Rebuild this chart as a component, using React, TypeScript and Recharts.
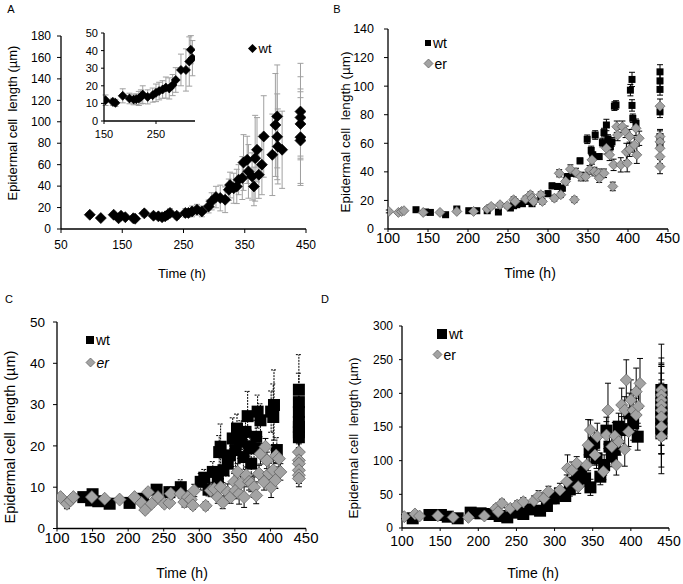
import React from "react";
import { ScatterChart, Scatter, XAxis, YAxis, ErrorBar } from "recharts";

const FONT = "'Liberation Sans', Arial, sans-serif";

// ---- panel A (wt only) ----
const aX = [97, 115, 136, 144, 148, 155, 168, 171, 186, 201, 209, 215, 220, 224, 228, 239, 253, 258, 264, 272, 280, 291, 296, 303, 310, 318, 324, 326, 332, 337, 340, 346, 348, 354, 356, 362, 365, 367, 370, 373, 378, 381, 395, 400, 403, 403, 404, 411, 441, 441, 441, 441, 441];
const aY = [13.3, 10.2, 13.3, 10, 12.4, 11, 10, 9.6, 14.6, 12.4, 11.8, 11, 11.8, 13.3, 15, 12.4, 15, 15, 16.4, 18, 16.4, 21, 25.8, 29.8, 28.9, 27.3, 36.6, 41, 38, 39.7, 46, 47.5, 62, 64.5, 53.7, 49, 39.7, 66, 73.9, 50.6, 60, 86.3, 69.2, 97, 105, 86, 77, 73.9, 109.5, 104, 98, 85.6, 82.5];
const aErr = [2, 1.5, 2, 2, 2, 2, 2, 2, 3, 2.5, 3, 3, 3, 3, 4, 3, 4, 4, 5, 5, 5, 6, 8, 10, 12, 12, 10, 12, 14, 16, 14, 20, 26, 22, 25, 22, 18, 40, 30, 22, 28, 38, 38, 48, 48, 40, 35, 36, 45, 38, 30, 45, 40];

// inset of panel A
const insetX = [153, 167, 172, 186, 199, 207, 212, 217, 221, 224.5, 234, 243.6, 250, 256, 262.7, 269, 275.5, 282, 288, 298, 307.6, 314, 317, 320];
const insetY = [11.8, 10.9, 10.3, 14.3, 12.8, 12.2, 12.4, 12.8, 13.7, 15, 13.7, 14.7, 16, 17, 17.9, 19, 18.5, 20.4, 23.3, 29, 29, 33.8, 40.5, 35.7];
const insetErr = [3, 2, 2, 4, 3, 3, 3, 4, 4, 5, 4, 4, 5, 5, 5, 6, 6, 6, 7, 9, 12, 14, 8, 10];

// ---- panel B ----
const bWtX = [135, 147, 153, 172, 186, 201, 211, 224, 238, 253, 257, 261, 268, 274, 280, 291, 300, 305, 312, 318, 324, 331, 340, 349, 354, 356, 359, 364, 368, 370, 373, 375, 378, 380, 383, 385, 403, 405, 405, 406, 410, 440, 440, 440, 440, 440, 440];
const bWtY = [13.5, 11.9, 11.6, 10, 14, 12.8, 12.8, 12.8, 11.9, 14.7, 16.3, 17, 17.7, 19.3, 17.7, 21.6, 24.7, 30.2, 29.8, 28.6, 36.7, 39, 47.7, 62.8, 55, 51.9, 65.8, 50.7, 60.5, 67.5, 72.8, 63, 57.7, 61, 86, 86.8, 97.2, 104.7, 86.5, 77.5, 74, 110, 103.7, 97.7, 82, 60, 64.7];
const bWtErr = [1, 1, 1, 1, 1.5, 1, 1, 1, 1, 1.5, 1.5, 1.5, 1.5, 2, 1.5, 2, 2, 2, 2, 2, 2, 2, 2, 3, 3, 2, 3, 2, 3, 3, 4, 3, 3, 3, 3, 3, 4, 5, 4, 3, 3, 5, 5, 4, 4, 4, 4];
const bErX = [101, 113, 117, 120, 144, 165, 186, 207, 224, 229, 240, 249, 257, 259, 272, 278, 280, 282, 291, 293, 308, 314, 316, 322, 328, 333, 335, 341, 347, 352, 355, 358, 363, 364, 370, 373, 377, 381, 382, 386, 387, 391, 393, 397, 398, 399, 402, 402, 408, 410, 411, 414, 440, 440, 440, 440, 440, 440];
const bErY = [12.3, 11.6, 12.3, 12.8, 11.6, 11.6, 12.3, 12.3, 14, 15.8, 17, 16.3, 20.5, 19.3, 21, 24, 21.6, 19.3, 24, 19.3, 21.6, 39, 24, 33.3, 41.9, 20.5, 39.5, 36.7, 36.7, 41.4, 48.4, 40.2, 39, 35.6, 39, 56.5, 51.9, 29.8, 44.9, 71.6, 65.8, 44.9, 71.6, 68, 54, 46, 64.7, 55.8, 58.8, 70.5, 51.9, 63.5, 86, 64.7, 61, 56.5, 50.7, 43.7];
const bErErr = [1, 1, 1, 1, 1, 1, 1, 1, 1.5, 1.5, 1.5, 1.5, 2, 2, 2, 2, 2, 2, 2, 2, 2, 2.5, 2, 2.5, 3, 2, 3, 3, 3, 3, 3, 3, 3, 3, 3, 4, 4, 3, 4, 4, 4, 5, 4, 4, 6, 6, 5, 5, 5, 5, 6, 5, 5, 5, 5, 5, 5, 5];

// ---- panel C ----
const cWtX = [137, 150, 148, 158, 174, 202, 221, 240, 258, 274, 302, 307, 313, 319, 326, 328, 330, 334, 340, 343, 347, 351, 353, 357, 359, 362, 365, 368, 371, 373, 377, 380, 382, 386, 401, 404, 405, 409, 440, 440, 440, 440, 440, 440, 440];
const cWtY = [7.6, 8.3, 6.8, 6.6, 6, 6.2, 7.2, 9.4, 8.8, 10, 11.3, 12.3, 9.4, 13.7, 11.5, 18.5, 19.8, 14.1, 15.7, 17.7, 21.8, 19, 24.2, 21, 22.6, 17.3, 23.4, 27.2, 19.8, 15.7, 19.4, 22.2, 28.3, 26.2, 28.3, 27, 29.9, 19, 33.6, 30.6, 28.2, 25.8, 24.6, 23.3, 22.1];
const cWtErr = [1, 1, 0.8, 0.8, 0.6, 0.8, 1, 1, 1.2, 1.8, 2, 2, 1.5, 2.5, 2, 4, 5.5, 3, 3, 3, 5, 4, 3.5, 4, 3.5, 3, 4, 6, 4, 3, 3, 4, 4, 4, 5, 8, 8.5, 3, 8.5, 7, 6, 5, 5, 4, 4];
const cErX = [105, 114, 119, 123, 149, 167, 188, 209, 219, 224, 228, 233, 242, 251, 258, 260, 274, 279, 284, 288, 291, 293, 309, 316, 321, 326, 330, 333, 340, 344, 349, 351, 354, 356, 358, 363, 366, 370, 373, 377, 380, 384, 386, 391, 393, 395, 398, 401, 404, 407, 408, 412, 414, 440, 440, 440, 440, 440, 440];
const cErY = [7.6, 6, 6.8, 7.6, 7.6, 7.2, 7, 7.6, 6.2, 4.5, 8.8, 6, 7.6, 6, 6.2, 8.4, 8.4, 6.4, 7.6, 7, 5.6, 9.2, 5.5, 9.2, 9.6, 7.6, 10, 6.3, 8.8, 7.6, 11.3, 9.2, 13.7, 8.4, 10.9, 7.6, 12.9, 11.3, 10.9, 10, 8, 13.3, 18.1, 11.3, 19.8, 16.5, 13.3, 10, 14.1, 11.7, 17.7, 16.9, 13.7, 18.5, 16.5, 15.7, 14.1, 12.9, 12.1];
const cErErr = [0.8, 1.2, 0.8, 0.8, 0.6, 0.6, 0.6, 0.6, 0.6, 0.8, 0.8, 0.8, 0.8, 0.8, 0.8, 1, 1, 1.2, 1.5, 1.2, 1, 1.5, 1, 1.5, 1.5, 1.5, 2, 1.5, 2, 1.5, 2, 2, 2, 2.5, 2, 2.5, 2, 2, 2, 2.5, 2, 2, 2.5, 2, 2, 2, 2.5, 2.5, 2.5, 2, 2, 2, 2, 2, 2, 2, 2, 2, 2];

// ---- panel D ----
const dWtX = [114, 136, 151, 160, 173, 190, 203, 216, 228, 238, 251, 259, 268, 281, 290, 299, 307, 314, 320, 325, 330, 334, 340, 346, 347, 352, 355, 360, 365, 368, 372, 375, 379, 384, 388, 398, 403, 409, 440, 440, 440, 440, 440, 440, 440, 440, 440];
const dWtY = [14.4, 19.3, 19.3, 16.8, 14.4, 22.8, 21.8, 20.8, 17.8, 15.8, 22.8, 20.8, 27.7, 25.7, 32.7, 44, 51.5, 47.5, 57.4, 67.3, 72.3, 83.7, 73.8, 113, 60.4, 126.7, 103.5, 76.2, 93.6, 144.6, 120.8, 106, 116.8, 150.5, 145.5, 170.3, 155.4, 135.6, 205, 195, 185, 177.7, 170, 162.9, 155.4, 148, 140.6];
const dWtErr = [3, 3, 3, 3, 3, 4, 4, 4, 4, 4, 5, 5, 6, 6, 7, 8, 8, 8, 10, 10, 12, 12, 12, 15, 12, 18, 15, 12, 15, 20, 18, 15, 15, 20, 20, 30, 25, 20, 40, 35, 30, 30, 25, 25, 25, 25, 30];
const dErX = [103, 117, 123, 147, 167, 187, 208, 223, 226, 231, 242, 251, 259, 273, 279, 286, 292, 307, 316, 317, 323, 329, 331, 342, 344, 347, 353, 356, 364, 368, 370, 375, 379, 381, 384, 388, 392, 392, 394, 397, 400, 403, 407, 407, 410, 412, 440, 440, 440, 440, 440, 440, 440, 440];
const dErY = [16.8, 20.8, 17.8, 18.3, 15.8, 15.8, 17.8, 29.2, 24.3, 36.6, 29.2, 34.2, 39.1, 40.6, 47.5, 44, 54, 56.4, 68.8, 88.6, 86, 96, 61.4, 93.6, 123, 145.5, 108.4, 135.6, 83.7, 138, 175, 120.8, 136.6, 93.6, 128.2, 182.7, 175, 116.8, 219.8, 143, 190, 175, 202.5, 167.8, 181, 214.8, 205, 197.5, 190, 182.7, 175, 165, 150.5, 135.6];
const dErErr = [3, 4, 3, 3, 3, 3, 4, 5, 5, 6, 5, 6, 6, 7, 8, 8, 8, 10, 10, 20, 12, 10, 10, 15, 38, 15, 15, 20, 12, 20, 40, 20, 20, 15, 20, 25, 20, 25, 30, 22, 30, 30, 35, 25, 30, 37, 68, 55, 50, 60, 65, 55, 60, 55];

// axis ticks
const aXTicks = [50, 150, 250, 350, 450];
const aYTicks = [0, 20, 40, 60, 80, 100, 120, 140, 160, 180];
const insetXTicks = [150, 250];
const insetYTicks = [0, 10, 20, 30, 40, 50];
const timeTicks = [100, 150, 200, 250, 300, 350, 400, 450];
const bYTicks = [0, 20, 40, 60, 80, 100, 120, 140];
const cYTicks = [0, 10, 20, 30, 40, 50];
const dYTicks = [0, 50, 100, 150, 200, 250, 300];

const Y_LABEL = "Epidermal cell  length (\u00b5m)";
const X_LABEL = "Time (h)";
const GREY = "#a3a3a3";
const GREY_EDGE = "#5a5a5a";

const toPoints = (xs: number[], ys: number[], es: number[]) =>
  xs.map((x, i) => ({ x, y: ys[i], e: es[i] }));

const diamond = (size: number, fill: string, stroke: string) => (p: any) => {
  const { cx, cy } = p;
  if (cx == null || cy == null) return <g />;
  const r = size / 2;
  return (
    <path
      d={`M${cx},${cy - r}L${cx + r},${cy}L${cx},${cy + r}L${cx - r},${cy}Z`}
      fill={fill}
      stroke={stroke}
      strokeWidth={0.7}
    />
  );
};

const square = (size: number, fill: string) => (p: any) => {
  const { cx, cy } = p;
  if (cx == null || cy == null) return <g />;
  return <rect x={cx - size / 2} y={cy - size / 2} width={size} height={size} fill={fill} />;
};

type PanelProps = {
  px: number; py: number; pw: number; ph: number;
  xDomain: number[]; xTicks: number[]; yDomain: number[]; yTicks: number[];
  xFont: number; yFont: number;
  xTickSize: number; xTickMargin: number; yTickSize: number; yTickMargin: number;
  children?: React.ReactNode;
};

const ML = 70, MT = 12, MR = 14, XH = 40;

function Panel(p: PanelProps) {
  return (
    <div style={{ position: "absolute", left: p.px - ML, top: p.py - MT }}>
      <ScatterChart
        width={p.pw + ML + MR}
        height={p.ph + MT + XH}
        margin={{ top: MT, right: MR, bottom: 0, left: 0 }}
      >
        <XAxis
          type="number"
          dataKey="x"
          domain={p.xDomain}
          ticks={p.xTicks}
          allowDataOverflow
          interval={0}
          height={XH}
          axisLine={{ stroke: "#000", strokeWidth: 1.3 }}
          tickLine={{ stroke: "#000" }}
          tickSize={p.xTickSize}
          tickMargin={p.xTickMargin}
          tick={{ fill: "#000", fontSize: p.xFont, fontFamily: FONT }}
        />
        <YAxis
          type="number"
          dataKey="y"
          domain={p.yDomain}
          ticks={p.yTicks}
          allowDataOverflow
          interval={0}
          width={ML}
          axisLine={{ stroke: "#000", strokeWidth: 1.3 }}
          tickLine={{ stroke: "#000" }}
          tickSize={p.yTickSize}
          tickMargin={p.yTickMargin}
          tick={{ fill: "#000", fontSize: p.yFont, fontFamily: FONT }}
        />
        {p.children}
      </ScatterChart>
    </div>
  );
}

function Txt({ x, y, size, children, rotate, italic }: any) {
  return (
    <div
      style={{
        position: "absolute",
        left: x,
        top: y,
        transform: `translate(-50%, -50%)${rotate ? " rotate(-90deg)" : ""}`,
        fontFamily: FONT,
        fontSize: size,
        fontStyle: italic ? "italic" : "normal",
        whiteSpace: "pre",
        lineHeight: 1,
        color: "#000",
      }}
    >
      {children}
    </div>
  );
}

function LegendItem({ x, y, kind, size, label, fontSize, italic }: any) {
  const s = size + 2;
  return (
    <div style={{ position: "absolute", left: x - s / 2, top: y - s / 2, display: "flex", alignItems: "center", fontFamily: FONT, fontSize, lineHeight: 1 }}>
      <svg width={s} height={s} style={{ display: "block" }}>
        {kind === "square" ? (
          <rect x={1} y={1} width={size} height={size} fill="#000" />
        ) : kind === "black" ? (
          <path d={`M${s / 2},1L${s - 1},${s / 2}L${s / 2},${s - 1}L1,${s / 2}Z`} fill="#000" />
        ) : (
          <path d={`M${s / 2},1L${s - 1},${s / 2}L${s / 2},${s - 1}L1,${s / 2}Z`} fill={GREY} stroke={GREY_EDGE} strokeWidth={0.7} />
        )}
      </svg>
      <span style={{ marginLeft: 1, fontStyle: italic ? "italic" : "normal" }}>{label}</span>
    </div>
  );
}

export default function App() {
  const aData = toPoints(aX, aY, aErr);
  const insetData = toPoints(insetX, insetY, insetErr);
  const bWt = toPoints(bWtX, bWtY, bWtErr);
  const bEr = toPoints(bErX, bErY, bErErr);
  const cWt = toPoints(cWtX, cWtY, cWtErr);
  const cEr = toPoints(cErX, cErY, cErErr);
  const dWt = toPoints(dWtX, dWtY, dWtErr);
  const dEr = toPoints(dErX, dErY, dErErr);

  return (
    <div style={{ position: "absolute", left: 0, top: 0, width: 683, height: 584, background: "#fff", overflow: "hidden" }}>
      {/* A */}
      <Panel px={61} py={36} pw={245} ph={193} xDomain={[50, 450]} xTicks={aXTicks} yDomain={[0, 180]} yTicks={aYTicks}
        xFont={12} yFont={12} xTickSize={4} xTickMargin={7} yTickSize={4} yTickMargin={6}>
        <Scatter data={aData} shape={diamond(11, "#000", "#000")} isAnimationActive={false}>
          <ErrorBar dataKey="e" direction="y" width={3} stroke="#a0a0a0" strokeWidth={1} />
        </Scatter>
      </Panel>
      <Panel px={104} py={33} pw={91} ph={88} xDomain={[150, 325]} xTicks={insetXTicks} yDomain={[0, 50]} yTicks={insetYTicks}
        xFont={11} yFont={11} xTickSize={3} xTickMargin={6} yTickSize={3} yTickMargin={3}>
        <Scatter data={insetData} shape={diamond(9, "#000", "#000")} isAnimationActive={false}>
          <ErrorBar dataKey="e" direction="y" width={3} stroke="#a0a0a0" strokeWidth={1} />
        </Scatter>
      </Panel>

      {/* B */}
      <Panel px={388} py={29} pw={280} ph={200} xDomain={[100, 450]} xTicks={timeTicks} yDomain={[0, 140]} yTicks={bYTicks}
        xFont={14.5} yFont={12.5} xTickSize={3} xTickMargin={1} yTickSize={4} yTickMargin={10}>
        <Scatter data={bWt} shape={square(7, "#000")} isAnimationActive={false}>
          <ErrorBar dataKey="e" direction="y" width={3} stroke="#000" strokeWidth={1} />
        </Scatter>
        <Scatter data={bEr} shape={diamond(10, GREY, GREY_EDGE)} isAnimationActive={false}>
          <ErrorBar dataKey="e" direction="y" width={3} stroke="#000" strokeWidth={1} />
        </Scatter>
      </Panel>

      {/* C */}
      <Panel px={56.5} py={322} pw={249} ph={206.5} xDomain={[100, 450]} xTicks={timeTicks} yDomain={[0, 50]} yTicks={cYTicks}
        xFont={15} yFont={13.5} xTickSize={3} xTickMargin={1} yTickSize={4} yTickMargin={8}>
        <Scatter data={cWt} shape={square(12, "#000")} isAnimationActive={false}>
          <ErrorBar dataKey="e" direction="y" width={3} stroke="#000" strokeWidth={1} strokeDasharray="2 1" />
        </Scatter>
        <Scatter data={cEr} shape={diamond(13, GREY, GREY_EDGE)} isAnimationActive={false}>
          <ErrorBar dataKey="e" direction="y" width={3} stroke="#000" strokeWidth={1} />
        </Scatter>
      </Panel>

      {/* D */}
      <Panel px={401.5} py={326} pw={267} ph={202} xDomain={[100, 450]} xTicks={timeTicks} yDomain={[0, 300]} yTicks={dYTicks}
        xFont={14} yFont={12} xTickSize={3} xTickMargin={5} yTickSize={3} yTickMargin={6}>
        <Scatter data={dWt} shape={square(12, "#000")} isAnimationActive={false}>
          <ErrorBar dataKey="e" direction="y" width={3} stroke="#000" strokeWidth={1} />
        </Scatter>
        <Scatter data={dEr} shape={diamond(12, GREY, GREY_EDGE)} isAnimationActive={false}>
          <ErrorBar dataKey="e" direction="y" width={3} stroke="#000" strokeWidth={1} />
        </Scatter>
      </Panel>

      {/* panel letters */}
      <Txt x={11} y={9} size={11}>A</Txt>
      <Txt x={337} y={9} size={11}>B</Txt>
      <Txt x={9} y={299} size={11}>C</Txt>
      <Txt x={325} y={299} size={11}>D</Txt>

      {/* axis titles */}
      <Txt x={12} y={123} size={13} rotate>{Y_LABEL}</Txt>
      <Txt x={346} y={132} size={13.5} rotate>{Y_LABEL}</Txt>
      <Txt x={10} y={437} size={14.5} rotate>{Y_LABEL}</Txt>
      <Txt x={354} y={438} size={13.5} rotate>{Y_LABEL}</Txt>
      <Txt x={182} y={273} size={13}>{X_LABEL}</Txt>
      <Txt x={530} y={273} size={14}>{X_LABEL}</Txt>
      <Txt x={182} y={573} size={14}>{X_LABEL}</Txt>
      <Txt x={533} y={573} size={14}>{X_LABEL}</Txt>

      {/* legends */}
      <LegendItem x={252} y={47} kind="black" size={9} label="wt" fontSize={13} />
      <LegendItem x={428} y={40} kind="square" size={6} label="wt" fontSize={14} />
      <LegendItem x={428} y={62} kind="grey" size={9} label="er" fontSize={14} />
      <LegendItem x={90} y={338} kind="square" size={8} label="wt" fontSize={14} />
      <LegendItem x={90} y={361} kind="grey" size={9} label="er" fontSize={14} italic />
      <LegendItem x={442} y={333} kind="square" size={10} label="wt" fontSize={14} />
      <LegendItem x={437} y={353} kind="grey" size={9} label="er" fontSize={14} />
    </div>
  );
}
